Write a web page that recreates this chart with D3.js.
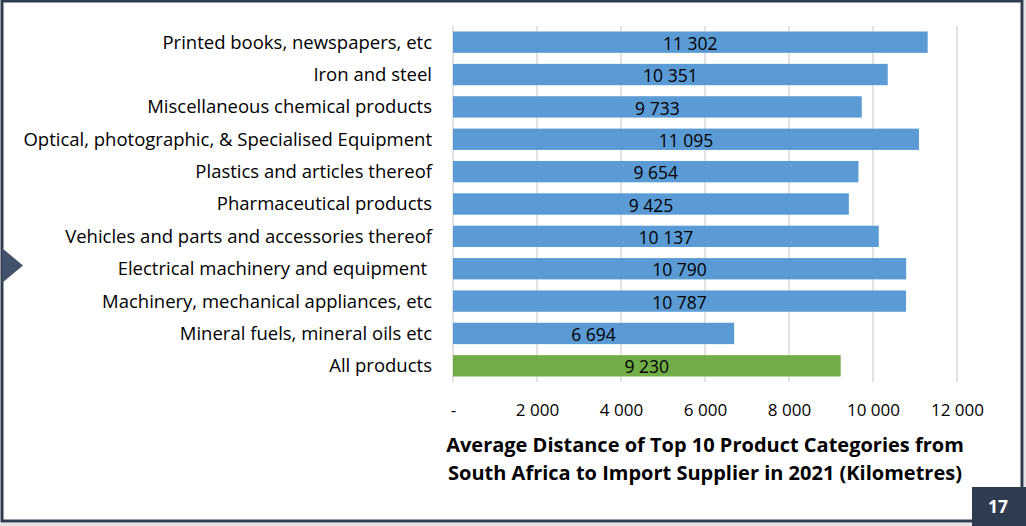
<!DOCTYPE html>
<html>
<head>
<meta charset="utf-8">
<script src="https://cdn.jsdelivr.net/npm/d3@7"></script>
<style>
  html, body { margin: 0; padding: 0; background: #e4e4e4; }
  svg { display: block; }
  text { font-family: "Open Sans", Lato, sans-serif; }
</style>
</head>
<body>
<div id="chart"></div>
<script>
(function() {
    'use strict';

    // Data
    const categories = [
        'Printed books, newspapers, etc',
        'Iron and steel',
        'Miscellaneous chemical products',
        'Optical, photographic, & Specialised Equipment',
        'Plastics and articles thereof',
        'Pharmaceutical products',
        'Vehicles and parts and accessories thereof',
        'Electrical machinery and equipment ',
        'Machinery, mechanical appliances, etc',
        'Mineral fuels, mineral oils etc',
        'All products'
    ];
    const distances = [11302, 10351, 9733, 11095, 9654, 9425, 10137, 10790, 10787, 6694, 9230];
    const tickValues = [0, 2000, 4000, 6000, 8000, 10000, 12000];
    const titleLines = [
        'Average Distance of Top 10 Product Categories from',
        'South Africa to Import Supplier in 2021 (Kilometres)'
    ];
    const pageNumber = '17';

    const W = 1026, H = 526;
    const dark = '#2f3c4f';
    const font = '"Open Sans", Lato, sans-serif';

    const rows = categories.map((c, i) => ({ name: c, value: distances[i], total: c === 'All products' }));

    const svg = d3.select('#chart').append('svg')
        .attr('width', W)
        .attr('height', H);

    // Slide frame
    svg.append('rect')
        .attr('x', 0).attr('y', 0)
        .attr('width', 1024).attr('height', 523)
        .attr('fill', '#fff');
    svg.append('rect')
        .attr('x', 2).attr('y', 1)
        .attr('width', 1020).attr('height', 520)
        .attr('fill', 'none')
        .attr('stroke', dark)
        .attr('stroke-width', 3);

    // Left pointer triangle
    svg.append('path')
        .attr('d', 'M2,248L23,265.5L2,283Z')
        .attr('fill', '#42526b');

    // Scales
    const x = d3.scaleLinear().domain([0, 12000]).range([453, 957]);
    const y = d3.scaleBand()
        .domain(categories)
        .range([26, 382])
        .paddingInner(0.34)
        .paddingOuter(0.17);

    const fmt = v => v === 0 ? '-' : d3.format(',')(v).replace(/,/g, ' ');

    // Gridlines
    svg.append('g')
        .selectAll('line')
        .data(tickValues)
        .join('line')
        .attr('x1', d => x(d)).attr('x2', d => x(d))
        .attr('y1', 26).attr('y2', 382)
        .attr('stroke', '#d9d9d9')
        .attr('stroke-width', 1.5);

    // Bars
    svg.append('g')
        .selectAll('rect')
        .data(rows)
        .join('rect')
        .attr('x', x(0))
        .attr('y', d => y(d.name))
        .attr('width', d => x(d.value) - x(0))
        .attr('height', y.bandwidth())
        .attr('fill', d => d.total ? '#70ad47' : '#5b9bd5');

    // Value labels
    svg.append('g')
        .selectAll('text')
        .data(rows)
        .join('text')
        .attr('x', d => (x(0) + x(d.value)) / 2)
        .attr('y', d => y(d.name) + y.bandwidth() / 2 + 1.5)
        .attr('dy', '0.35em')
        .attr('text-anchor', 'middle')
        .attr('font-size', '17.5px')
        .attr('fill', '#000')
        .text(d => fmt(d.value));

    // Category labels
    svg.append('g')
        .selectAll('text')
        .data(rows)
        .join('text')
        .attr('x', 432)
        .attr('y', d => y(d.name) + y.bandwidth() / 2)
        .attr('dy', '0.35em')
        .attr('text-anchor', 'end')
        .attr('font-size', '18.5px')
        .attr('fill', '#000')
        .style('white-space', 'pre')
        .text(d => d.name);

    // X axis tick labels
    const xAxis = d3.axisBottom(x)
        .tickValues(tickValues)
        .tickSize(0)
        .tickPadding(0)
        .tickFormat(fmt);
    const ax = svg.append('g')
        .attr('transform', 'translate(0,404)')
        .call(xAxis);
    ax.select('.domain').remove();
    ax.selectAll('text')
        .attr('font-size', '17px')
        .attr('font-family', font)
        .attr('fill', '#000');

    // Title
    svg.append('g')
        .selectAll('text')
        .data(titleLines)
        .join('text')
        .attr('x', 705)
        .attr('y', (d, i) => 452 + i * 28)
        .attr('text-anchor', 'middle')
        .attr('font-size', '20px')
        .attr('font-weight', 'bold')
        .attr('fill', '#000')
        .text(d => d);

    // Page number box
    svg.append('rect')
        .attr('x', 972).attr('y', 487)
        .attr('width', 54).attr('height', 39)
        .attr('fill', dark);
    svg.append('text')
        .attr('x', 998)
        .attr('y', 507)
        .attr('dy', '0.35em')
        .attr('text-anchor', 'middle')
        .attr('font-size', '17.5px')
        .attr('font-weight', 'bold')
        .attr('fill', '#fff')
        .text(pageNumber);
})();
</script>
</body>
</html>
